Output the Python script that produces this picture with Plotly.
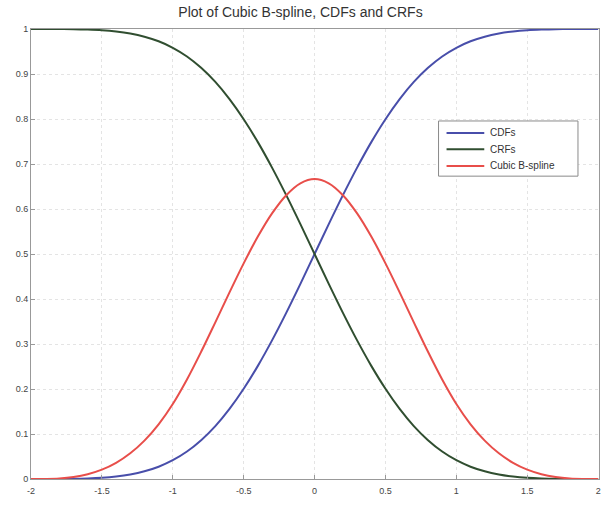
import plotly.graph_objects as go

# x samples (step 0.1 from -2 to 2)
x_vals = [-2.0, -1.9, -1.8, -1.7, -1.6, -1.5, -1.4, -1.3, -1.2, -1.1, -1.0,
          -0.9, -0.8, -0.7, -0.6, -0.5, -0.4, -0.3, -0.2, -0.1, 0.0,
          0.1, 0.2, 0.3, 0.4, 0.5, 0.6, 0.7, 0.8, 0.9, 1.0,
          1.1, 1.2, 1.3, 1.4, 1.5, 1.6, 1.7, 1.8, 1.9, 2.0]

cdf_vals = [0.0, 0.0, 0.0001, 0.0003, 0.0011, 0.0026, 0.0054, 0.0100, 0.0171, 0.0273, 0.0417,
            0.0610, 0.0862, 0.1176, 0.1558, 0.2005, 0.2514, 0.3080, 0.3692, 0.4336, 0.5,
            0.5664, 0.6308, 0.6920, 0.7486, 0.7995, 0.8442, 0.8824, 0.9138, 0.9390, 0.9583,
            0.9727, 0.9829, 0.9900, 0.9946, 0.9974, 0.9989, 0.9997, 0.9999, 1.0, 1.0]

crf_vals = [1.0, 1.0, 0.9999, 0.9997, 0.9989, 0.9974, 0.9946, 0.9900, 0.9829, 0.9727, 0.9583,
            0.9390, 0.9138, 0.8824, 0.8442, 0.7995, 0.7486, 0.6920, 0.6308, 0.5664, 0.5,
            0.4336, 0.3692, 0.3080, 0.2514, 0.2005, 0.1558, 0.1176, 0.0862, 0.0610, 0.0417,
            0.0273, 0.0171, 0.0100, 0.0054, 0.0026, 0.0011, 0.0003, 0.0001, 0.0, 0.0]

bspline_vals = [0.0, 0.0002, 0.0013, 0.0045, 0.0107, 0.0208, 0.0360, 0.0572, 0.0853, 0.1215, 0.1667,
                0.2212, 0.2827, 0.3482, 0.4147, 0.4792, 0.5387, 0.5902, 0.6307, 0.6572, 0.6667,
                0.6572, 0.6307, 0.5902, 0.5387, 0.4792, 0.4147, 0.3482, 0.2827, 0.2212, 0.1667,
                0.1215, 0.0853, 0.0572, 0.0360, 0.0208, 0.0107, 0.0045, 0.0013, 0.0002, 0.0]

series_names = ["CDFs", "CRFs", "Cubic B-spline"]
series_colors = ["rgb(72,78,170)", "rgb(48,78,48)", "rgb(232,78,74)"]

x_ticks = [-2, -1.5, -1, -0.5, 0, 0.5, 1, 1.5, 2]
x_tick_labels = ["-2", "-1.5", "-1", "-0.5", "0", "0.5", "1", "1.5", "2"]
y_ticks = [0, 0.1, 0.2, 0.3, 0.4, 0.5, 0.6, 0.7, 0.8, 0.9, 1]
y_tick_labels = ["0", "0.1", "0.2", "0.3", "0.4", "0.5", "0.6", "0.7", "0.8", "0.9", "1"]

fig = go.Figure()
for name, color, yv in zip(series_names, series_colors, [cdf_vals, crf_vals, bspline_vals]):
    fig.add_trace(go.Scatter(x=x_vals, y=yv, mode="lines", name=name, showlegend=False,
                             line=dict(color=color, width=2, shape="spline", smoothing=1.0)))

# MATLAB-style legend box drawn in paper coordinates
shapes = [dict(type="rect", xref="paper", yref="paper", x0=0.7175, x1=0.963, y0=0.673, y1=0.7956,
               line=dict(color="#8a8a8a", width=1), fillcolor="white", layer="above")]
annotations = []
entry_y = [0.769, 0.733, 0.6956]
for name, color, ey in zip(series_names, series_colors, entry_y):
    shapes.append(dict(type="line", xref="paper", yref="paper", x0=0.7316, x1=0.798, y0=ey, y1=ey,
                       line=dict(color=color, width=2), layer="above"))
    annotations.append(dict(xref="paper", yref="paper", x=0.805, y=ey, text=name, showarrow=False,
                            xanchor="left", yanchor="middle", font=dict(size=10, color="#333")))

fig.update_layout(
    width=601, height=505,
    margin=dict(l=31, r=0, t=29, b=26),
    paper_bgcolor="white", plot_bgcolor="white",
    font=dict(family="Liberation Sans, Arial, sans-serif", color="#444", size=9),
    title=dict(text="Plot of Cubic B-spline, CDFs and CRFs", x=0.5, xanchor="center",
               y=0.985, yanchor="top", font=dict(size=14, color="#333")),
    showlegend=False,
    shapes=shapes,
    annotations=annotations,
)
fig.update_xaxes(range=[-2, 2.006], tickvals=x_ticks, ticktext=x_tick_labels,
                 showgrid=True, gridcolor="#e4e4e4", griddash="dot", gridwidth=1,
                 showline=True, linecolor="#999", linewidth=1, mirror=True,
                 ticks="inside", ticklen=4, tickcolor="#999", zeroline=False,
                 ticklabelstandoff=3, ticklabeloverflow="allow")
fig.update_yaxes(range=[0, 1], tickvals=y_ticks, ticktext=y_tick_labels,
                 showgrid=True, gridcolor="#e4e4e4", griddash="dot", gridwidth=1,
                 showline=True, linecolor="#999", linewidth=1, mirror=True,
                 ticks="inside", ticklen=4, tickcolor="#999", zeroline=False)

fig.write_html("out.html")
